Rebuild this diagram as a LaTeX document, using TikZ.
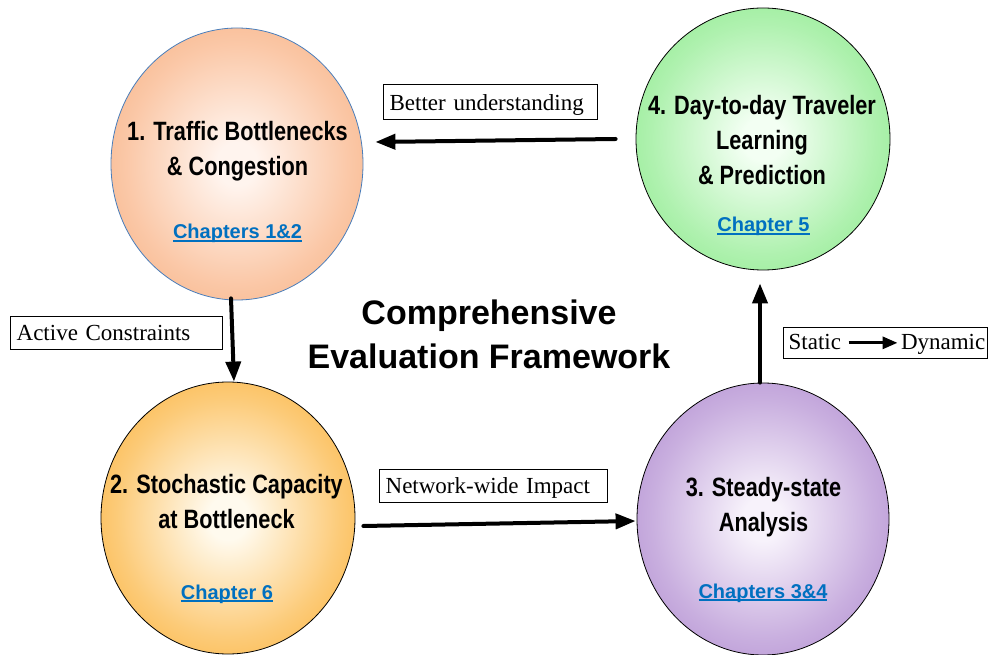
\documentclass[tikz,border=0pt]{standalone}
\usepackage{fontspec}
\setmainfont{Liberation Serif}
\setsansfont{Liberation Sans}
\newfontfamily\condfont[FakeStretch=0.82]{Liberation Sans}
\usetikzlibrary{arrows.meta,shapes.geometric}

% circle palettes: outer rim and bright centre
\definecolor{peachO}{RGB}{247,164,110}
\definecolor{peachC}{RGB}{255,244,238}
\definecolor{amberO}{RGB}{250,164,24}
\definecolor{amberC}{RGB}{255,250,238}
\definecolor{lilacO}{RGB}{163,120,200}
\definecolor{lilacC}{RGB}{247,242,251}
\definecolor{mintO}{RGB}{120,230,120}
\definecolor{mintC}{RGB}{243,255,243}
\definecolor{linkblue}{HTML}{0070C0}
\definecolor{ringblue}{HTML}{4A7EBB}

\pgfdeclareradialshading{peachball}{\pgfpoint{0bp}{0bp}}{color(0bp)=(peachC); color(4bp)=(peachC); color(22bp)=(peachO!55!peachC); color(40bp)=(peachO); color(50bp)=(peachO)}
\pgfdeclareradialshading{amberball}{\pgfpoint{0bp}{0bp}}{color(0bp)=(amberC); color(4bp)=(amberC); color(22bp)=(amberO!55!amberC); color(40bp)=(amberO); color(50bp)=(amberO)}
\pgfdeclareradialshading{lilacball}{\pgfpoint{0bp}{0bp}}{color(0bp)=(lilacC); color(4bp)=(lilacC); color(22bp)=(lilacO!55!lilacC); color(40bp)=(lilacO); color(50bp)=(lilacO)}
\pgfdeclareradialshading{mintball}{\pgfpoint{0bp}{0bp}}{color(0bp)=(mintC); color(4bp)=(mintC); color(22bp)=(mintO!55!mintC); color(40bp)=(mintO); color(50bp)=(mintO)}

% underlined chapter reference
\newcommand\chlink[1]{\setbox0=\hbox{#1}\rlap{\rule[-3pt]{\wd0}{1.6pt}}\box0}

\tikzset{
  phase/.style={ellipse, inner sep=0pt, line width=0.8pt, draw=black},
  phasetitle/.style={align=center, inner sep=0pt,
    font=\condfont\bfseries\fontsize{26.5}{35}\selectfont},
  chapref/.style={anchor=base, inner sep=0pt, text=linkblue,
    font=\sffamily\bfseries\fontsize{20}{24}\selectfont},
  flow/.style={line width=4pt, line cap=round,
    -{Triangle[length=20pt,width=15pt]}},
  tag/.style={draw=black, line width=1.3pt, fill=white, anchor=south west,
    inner xsep=6pt, inner ysep=0pt, text depth=9pt, align=left,
    font=\fontsize{23}{26}\selectfont},
}

\begin{document}
\begin{tikzpicture}[x=1pt,y=-1pt]
\fill[white] (0,0) rectangle (989,655);
\useasboundingbox (0,0) rectangle (989,655);

% the four stages
\node[phase, draw=ringblue, shading=peachball, minimum width=252pt, minimum height=272pt] (c1) at (237,164) {};
\node[phase, shading=mintball, minimum width=254pt, minimum height=262pt] (c4) at (763,139) {};
\node[phase, shading=amberball, minimum width=254pt, minimum height=272pt] (c2) at (228,518) {};
\node[phase, shading=lilacball, minimum width=252pt, minimum height=272pt] (c3) at (763,519) {};

% stage titles
\node[phasetitle] (t1) at (237.5,151.6) {1. Traffic Bottlenecks\\\& Congestion};
\node[phasetitle] (t4) at (762,140.5) {4. Day-to-day Traveler\\Learning\\\& Prediction};
\node[phasetitle] (t2) at (226.5,501.8) {2. Stochastic Capacity\\at Bottleneck};
\node[phasetitle] (t3) at (763.5,507.6) {3. Steady-state\\Analysis};

% chapter references
\node[chapref] (r1) at (237.5,239) {\chlink{Chapters 1\&2}};
\node[chapref] (r4) at (763.5,232) {\chlink{Chapter 5}};
\node[chapref] (r2) at (227,599) {\chlink{Chapter 6}};
\node[chapref] (r3) at (763,598) {\chlink{Chapters 3\&4}};

% framework title
\node[align=center, inner sep=0pt, font=\sffamily\bfseries\fontsize{34}{44}\selectfont]
  (title) at (489,334) {Comprehensive\\Evaluation Framework};

% cycle connectors
\draw[flow] ([shift={(-20,0)}]c4.west) -- ([shift={(12,-22)}]c1.east);
\draw[flow] ([shift={(-6,-2)}]c1.south) -- ([shift={(6,0)}]c2.north);
\draw[flow] ([shift={(-3,0)}]c3.north) -- ([shift={(-3,13)}]c4.south);
\draw[flow] ([shift={(8,8)}]c2.east) -- ([shift={(-1,2)}]c3.west);

% connector labels
\node[tag, text width=202pt, text height=26pt] (l1) at (383,120) {Better understanding};
\node[tag, text width=200pt, text height=24pt] (l2) at (10,350) {Active Constraints};
\node[tag, text width=194pt, text height=22pt, inner xsep=5pt] (l3) at (783,359)
  {\mbox{Static\hspace{6pt}\tikz[baseline={(0pt,-6.5pt)}]\draw[line width=3pt,-{Triangle[length=15pt,width=12pt]}] (0pt,0pt) -- (49pt,0pt);\hspace{2pt}Dynamic}};
\node[tag, text width=216pt, text height=24pt] (l4) at (379,503) {Network-wide Impact};
\end{tikzpicture}
\end{document}
